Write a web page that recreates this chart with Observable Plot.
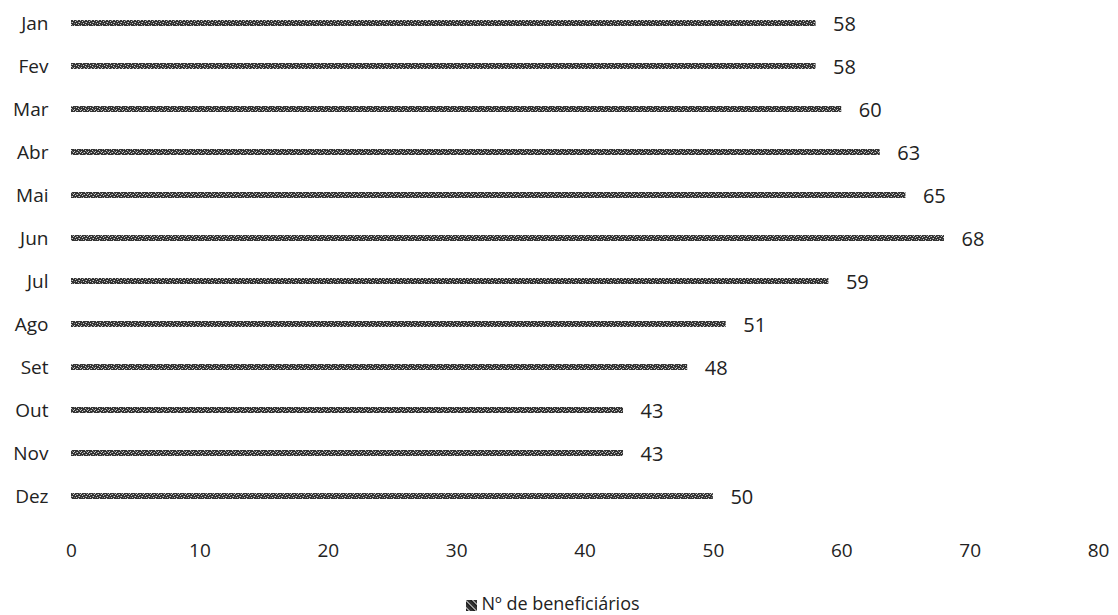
<!DOCTYPE html>
<html>
<head>
<meta charset="utf-8">
<script src="https://cdn.jsdelivr.net/npm/d3@7"></script>
<script src="https://cdn.jsdelivr.net/npm/@observablehq/plot@0.6"></script>
<style>
  body { margin: 0; background: #fff; font-family: "Open Sans", sans-serif; }
  #chart svg { display: block; overflow: visible; }
  #legend { text-align: center; font-size: 18px; line-height: 24px; color: #222; margin-top: 31px; padding-right: 12px; }
  #legend .sw { display: inline-block; width: 11px; height: 11px; margin-right: 4px; vertical-align: -1px;
    background: repeating-linear-gradient(45deg, #222 0 2px, #999 2px 3px, #333 3px 5px); }
</style>
</head>
<body>
<div id="chart"></div>
<div id="legend"><span class="sw"></span>Nº de beneficiários</div>
<script>
const months = ["Jan","Fev","Mar","Abr","Mai","Jun","Jul","Ago","Set","Out","Nov","Dez"];
const beneficiarios = [58, 58, 60, 63, 65, 68, 59, 51, 48, 43, 43, 50];
const xTicks = [0, 10, 20, 30, 40, 50, 60, 70, 80];

const data = months.map((m, i) => ({month: m, value: beneficiarios[i]}));

const chart = Plot.plot({
  width: 1118,
  height: 560,
  marginLeft: 71,
  marginRight: 20,
  marginTop: 0,
  marginBottom: 20,
  style: "font-family: 'Open Sans', sans-serif; font-size: 19px; color: #222; overflow: visible;",
  x: {domain: [0, 80], label: null},
  y: {domain: months, range: [-1.5, 519.3], label: null, paddingInner: 0.87, paddingOuter: 0.43},
  marks: [
    Plot.axisX({ticks: xTicks, tickSize: 0, tickPadding: 3, fontSize: 19, fill: "#222", label: null}),
    Plot.axisY({tickSize: 0, tickPadding: 23, fontSize: 19, fill: "#222", label: null}),
    Plot.barX(data, {x: "value", y: "month", fill: "url(#barpat)"}),
    Plot.text(data, {x: "value", y: "month", text: d => String(d.value), textAnchor: "start", dx: 17, dy: 1, fontSize: 20, fill: "#222"})
  ]
});

// texture pattern for the bars
const svg = d3.select(chart);
const defs = svg.insert("defs", ":first-child");
const pat = defs.append("pattern").attr("id", "barpat").attr("patternUnits", "userSpaceOnUse")
  .attr("width", 7).attr("height", 6);
pat.append("rect").attr("width", 7).attr("height", 6).attr("fill", "#333");
[[1,0],[4,1],[0,2],[5,3],[2,4],[6,5],[3,2]].forEach(([x, y]) =>
  pat.append("rect").attr("x", x).attr("y", y).attr("width", 1).attr("height", 1).attr("fill", "#ccc"));
[[2,1],[6,2],[1,4],[4,5]].forEach(([x, y]) =>
  pat.append("rect").attr("x", x).attr("y", y).attr("width", 1).attr("height", 1).attr("fill", "#777"));

document.getElementById("chart").appendChild(chart);
</script>
</body>
</html>
